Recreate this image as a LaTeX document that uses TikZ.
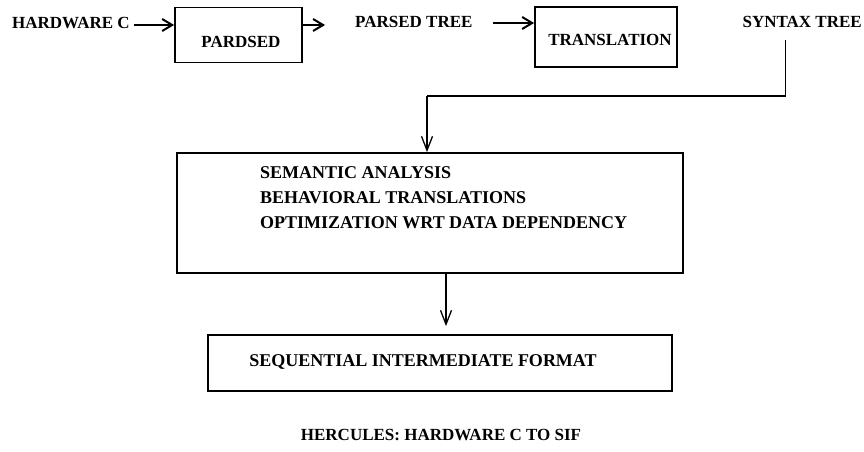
\documentclass[tikz,border=0pt]{standalone}
\usepackage{fontspec}
\setmainfont{Liberation Serif}
\usetikzlibrary{arrows.meta,calc}
\begin{document}
\begin{tikzpicture}[x=1pt,y=-1pt,
  lbl/.style={font=\fontsize{17}{20}\selectfont\bfseries, inner sep=0pt},
  biglbl/.style={font=\fontsize{18}{21}\selectfont\bfseries, inner sep=0pt},
  boxnode/.style={draw, line width=1.8pt, inner sep=0pt},
  harrow/.style={line width=2pt, -{Straight Barb[length=10pt,width=12pt,line width=2pt]}},
  varrow/.style={line width=1.3pt, -{Straight Barb[length=14pt,width=11pt]}},
  link/.style={line width=1.3pt}]
\useasboundingbox (0,0) rectangle (864,452);
% top row
\node[lbl, anchor=west] (hw) at (12,23) {HARDWARE C};
\node[boxnode, minimum width=127pt, minimum height=55pt] (pard) at (238.5,35) {};
\node[lbl] (pardtxt) at (241,42) {PARDSED};
\node[lbl, anchor=west] (parsed) at (355,22) {PARSED TREE};
\node[boxnode, minimum width=142pt, minimum height=60pt] (trans) at (606,37) {};
\node[lbl] (transtxt) at (610,40) {TRANSLATION};
\node[lbl, anchor=east] (syntax) at (862,22) {SYNTAX TREE};
% middle box
\node[boxnode, minimum width=506pt, minimum height=120pt] (sem) at (430,213) {};
\node[biglbl, anchor=west] (l1) at (260,173) {SEMANTIC ANALYSIS};
\node[biglbl, anchor=west] (l2) at (260,198) {BEHAVIORAL TRANSLATIONS};
\node[biglbl, anchor=west] (l3) at (260,223) {OPTIMIZATION WRT DATA DEPENDENCY};
% bottom box
\node[boxnode, minimum width=464pt, minimum height=56pt] (seq) at (440,363) {};
\node[biglbl] (seqtxt) at (423,362) {SEQUENTIAL INTERMEDIATE FORMAT};
\node[lbl] (cap) at (441,435) {HERCULES: HARDWARE C TO SIF};
% connectors
\draw[harrow] ($(hw.east)+(4,2)$) -- ($(hw.east -| pard.west)+(0,2)$);
\draw[harrow] ($(hw.east -| pard.east)+(0,2)$) -- ($(parsed.west |- hw.east)+(-30,2)$);
\draw[harrow] ($(parsed.east |- hw.east)+(20,0)$) -- ($(hw.east -| trans.west)+(0,0)$);
\coordinate (st) at ($(syntax.south)+(-17,12)$);
\draw[link] (st) |- ($(sem.north)+(-3,-56)$);
\draw[varrow] ($(sem.north)+(-3,-56)$) -- ($(sem.north)+(-3,0)$);
\draw[varrow] ($(sem.south)+(16,0)$) -- ($(seq.north)+(6,-8)$);
\end{tikzpicture}
\end{document}
